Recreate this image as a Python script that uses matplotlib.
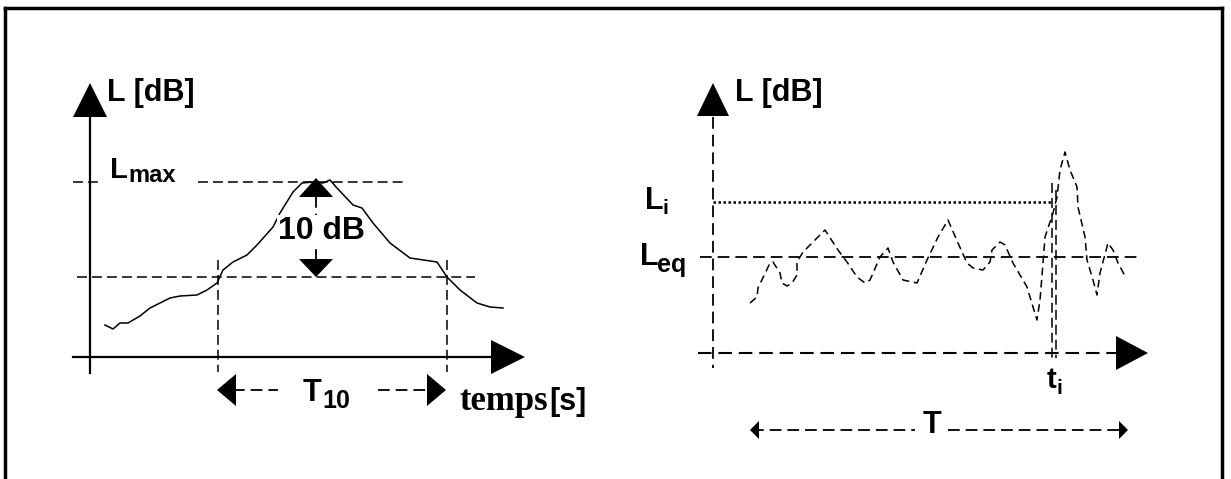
import numpy as np
import matplotlib.pyplot as plt

# Diagram drawn in pixel coordinates (x to the right, y downwards)
W, H = 1231, 479

# Left panel: level curve of a single event (pixel coords)
left_x = [105, 113, 120, 128, 140, 150, 170, 180, 197, 207, 217, 223, 233, 247,
          257, 273, 280, 293, 302, 313, 323, 330, 337, 353, 362, 373, 390, 410,
          437, 447, 460, 477, 490, 503]
left_y = [325, 329, 323, 323, 316, 308, 298, 296, 295, 290, 283, 270, 262, 255,
          245, 227, 213, 192, 183, 182, 183, 180, 188, 205, 208, 223, 243, 258,
          262, 277, 290, 303, 307, 308]

# Right panel: fluctuating level curve
right_x = [750, 757, 758, 770, 773, 780, 782, 787, 792, 797, 797, 803, 813, 825,
           838, 847, 857, 865, 870, 880, 888, 893, 903, 917, 927, 938, 948, 958,
           967, 973, 983, 990, 992, 1000, 1005, 1013, 1027, 1033, 1037, 1040,
           1043, 1045, 1053, 1057, 1060, 1065, 1070, 1077, 1078, 1085, 1087,
           1093, 1097, 1100, 1108, 1113, 1118, 1125]
right_y = [303, 297, 288, 263, 262, 273, 283, 286, 283, 275, 262, 252, 242, 230,
           250, 262, 277, 283, 280, 257, 248, 262, 280, 283, 260, 237, 220, 243,
           263, 268, 270, 262, 250, 242, 245, 263, 287, 307, 320, 300, 263, 237,
           213, 197, 170, 152, 170, 187, 207, 237, 260, 280, 295, 273, 243, 250,
           263, 276]

# Reference levels / times (pixels)
l_max, l_10 = 182, 277
t10_start, t10_end = 218, 447
l_eq, l_i = 257, 202
t_i = 1054

plt.rcParams['font.family'] = ['Liberation Sans', 'DejaVu Sans']
plt.rcParams['font.weight'] = 'bold'

fig = plt.figure(figsize=(W / 100, H / 100), dpi=100)
ax = fig.add_axes([0, 0, 1, 1])
ax.set_xlim(0, W)
ax.set_ylim(H, 0)
ax.axis('off')

K = 'black'
dash = (6.5, 3.3)


def tri(tip, base_c, half):
    # filled triangle arrowhead from base centre to tip
    tx, ty = tip
    bx, by = base_c
    dx, dy = tx - bx, ty - by
    n = np.hypot(dx, dy)
    px, py = -dy / n * half, dx / n * half
    ax.fill([tx, bx + px, bx - px], [ty, by + py, by - py], color=K, zorder=4, lw=0)


def dline(xs, ys, lw=1.1, d=dash, z=2):
    ax.plot(xs, ys, color=K, lw=lw, dashes=d, zorder=z)


# frame
ax.plot([5, 5], [H, 8], color=K, lw=2.5)
ax.plot([5, 1222], [8, 8], color=K, lw=2.5)
ax.plot([1222, 1222], [8, H], color=K, lw=2.5)

# ---------------- left panel ----------------
ax.plot([90, 90], [373, 112], color=K, lw=1.6)
tri((90, 83), (90, 117), 17)
ax.plot([73, 492], [357, 357], color=K, lw=1.6)
tri((525, 357), (491, 357), 17)
ax.text(107, 101, 'L [dB]', fontsize=22, ha='left', va='baseline')

dline([73, 100], [l_max, l_max])
dline([198, 407], [l_max, l_max])
ax.text(110, 178, 'L', fontsize=21, ha='left', va='baseline')
ax.text(128, 182, 'max', fontsize=17, ha='left', va='baseline')

dline([77, 475], [l_10, l_10])
dline([t10_start, t10_start], [260, 372])
dline([t10_end, t10_end], [260, 372])

ax.plot(left_x, left_y, color=K, lw=1.1, zorder=3)

# 10 dB arrow
dline([316, 316], [196, 260], lw=1.3)
tri((316, 178), (316, 197), 17)
tri((316, 277), (316, 259), 17)
ax.text(321, 239, '10 dB', fontsize=23, ha='center', va='baseline', zorder=5,
        bbox=dict(facecolor='white', edgecolor='none', pad=0.5))

# T10 arrow
dline([233, 278], [390, 390], lw=1.3)
dline([378, 430], [390, 390], lw=1.3)
tri((217, 390), (236, 390), 16)
tri((446, 390), (427, 390), 16)
ax.text(303, 401, 'T', fontsize=22, ha='left', va='baseline', zorder=5)
ax.text(322, 408, '10', fontsize=18, ha='left', va='baseline', zorder=5)
ax.text(459, 410, 'temps', fontsize=25, ha='left', va='baseline',
        family='Liberation Serif')
ax.text(549, 410, '[s]', fontsize=22, ha='left', va='baseline')

# ---------------- right panel ----------------
dline([713, 713], [117, 368], lw=1.3)
tri((713, 83), (713, 116), 16)
dline([698, 1118], [353, 353], lw=1.5)
tri((1148, 353), (1116, 353), 17)
ax.text(735, 101, 'L [dB]', fontsize=22, ha='left', va='baseline')

dline([700, 1142], [l_eq, l_eq], lw=1.3)
ax.plot([713, 1053], [l_i, l_i], color=K, lw=1.8, dashes=(1.0, 1.0), zorder=2)
dline([t_i - 2, t_i - 2], [183, 358], lw=1.1)
dline([t_i + 2, t_i + 2], [190, 358], lw=1.1)

ax.plot(right_x, right_y, color=K, lw=1.1, dashes=(5, 3), zorder=3)

ax.text(645, 209, 'L', fontsize=22, ha='left', va='baseline')
ax.text(662, 214, 'i', fontsize=15, ha='left', va='baseline')
ax.text(640, 265, 'L', fontsize=22, ha='left', va='baseline')
ax.text(657, 272, 'eq', fontsize=18, ha='left', va='baseline')
ax.text(1047, 388, 't', fontsize=21, ha='left', va='baseline')
ax.text(1057, 394, 'i', fontsize=15, ha='left', va='baseline')

# T arrow
dline([752, 915], [430, 430], lw=1.3)
dline([948, 1125], [430, 430], lw=1.3)
tri((750, 430), (759, 430), 9)
tri((1128, 430), (1119, 430), 9)
ax.text(932, 433, 'T', fontsize=22, ha='center', va='baseline', zorder=5)

fig.savefig('out.png', dpi=100, facecolor='white')
